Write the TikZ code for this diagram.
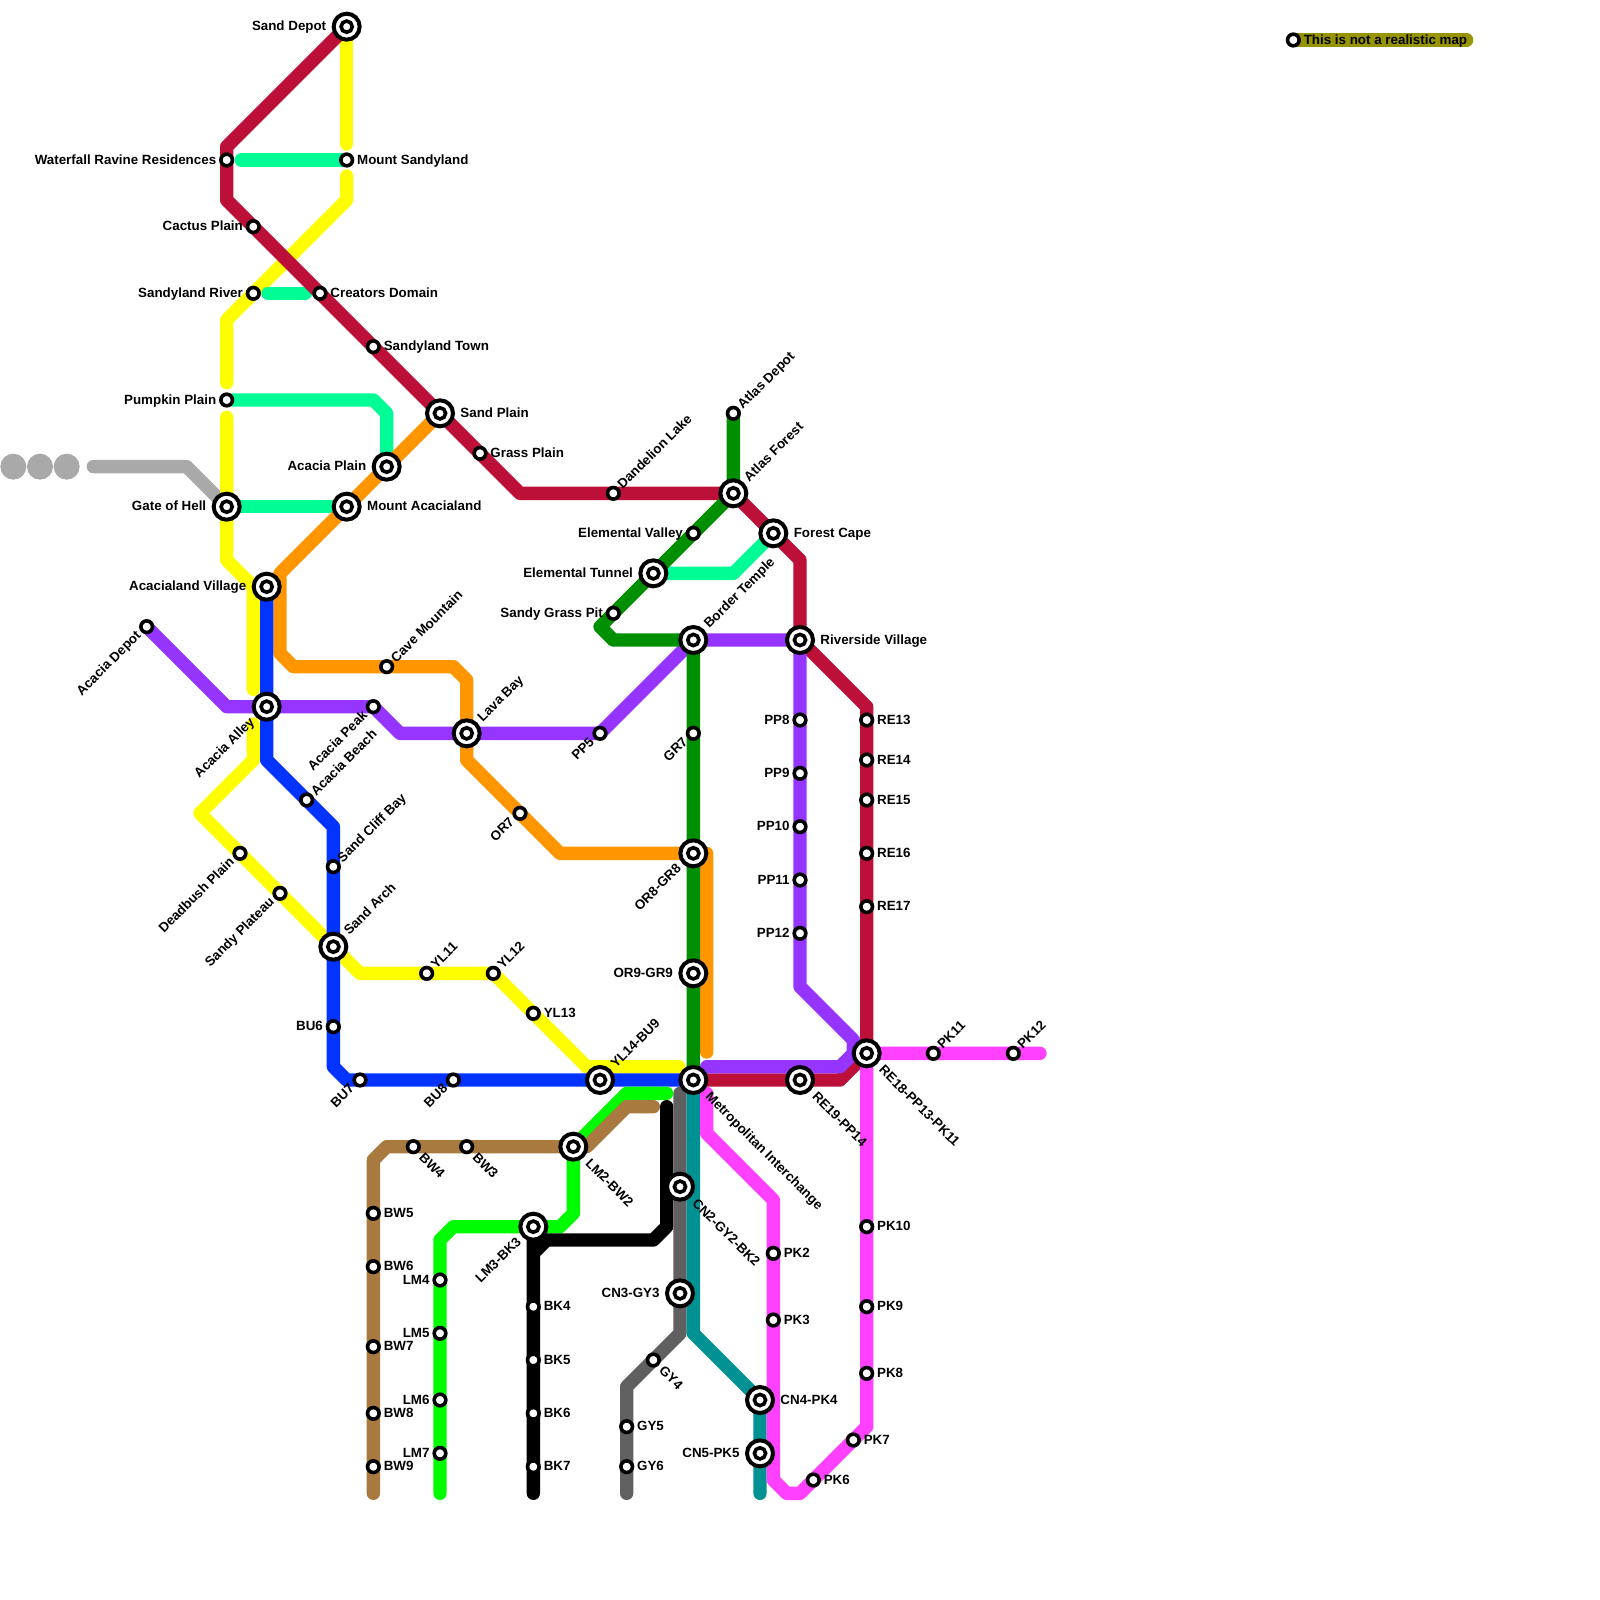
\documentclass[tikz,border=0pt]{standalone}
\usepackage{fontspec}
\setmainfont{Liberation Sans}
\usepackage{xcolor}
\usetikzlibrary{positioning,backgrounds}

\definecolor{crimsonc}{HTML}{BC1038}
\definecolor{yellowc}{HTML}{FFFE00}
\definecolor{springc}{HTML}{00FD95}
\definecolor{orangec}{HTML}{FF9600}
\definecolor{grapec}{HTML}{9635FF}
\definecolor{bluec}{HTML}{0233FF}
\definecolor{cloverc}{HTML}{008F00}
\definecolor{limec}{HTML}{00FC00}
\definecolor{brownc}{HTML}{A97A40}
\definecolor{ironc}{HTML}{606060}
\definecolor{tealc}{HTML}{009193}
\definecolor{pinkc}{HTML}{FF40FF}
\definecolor{alumc}{HTML}{A9A9A9}
\definecolor{oilc}{HTML}{969400}

\def\px{0.015cm}

\tikzset{
  line/.style={line width=0.2cm,line cap=round,line join=round},
  stn/.style={circle,draw=black,fill=white,line width=3.6*\px,minimum size=11.6*\px,inner sep=0pt},
  bigstn/.style={circle,draw=black,fill=white,line width=4*\px,minimum size=26*\px,inner sep=0pt,
    path picture={\draw[black,fill=white,line width=3.6*\px] (path picture bounding box.center) circle (5.6*\px);}},
  dot/.style={circle,fill=alumc,minimum size=26*\px,inner sep=0pt},
  txt/.style={font=\fontsize{5.7}{6}\bfseries\selectfont,inner sep=0pt,text height=1.5ex,text depth=.3ex},
  tr/.style={txt,anchor=west,xshift=10*\px,yshift=3.2*\px},
  tl/.style={txt,anchor=east,xshift=-10*\px,yshift=3.2*\px},
  brr/.style={txt,anchor=west,xshift=20*\px,yshift=3.2*\px},
  bll/.style={txt,anchor=east,xshift=-20*\px,yshift=3.2*\px},
  tne/.style={txt,xshift=4*\px,yshift=8.5*\px,rotate=45,anchor=west},
  bne/.style={txt,xshift=10.5*\px,yshift=16*\px,rotate=45,anchor=west},
  tsw/.style={txt,xshift=-10*\px,yshift=-4*\px,rotate=45,anchor=east},
  bsw/.style={txt,xshift=-16.5*\px,yshift=-10.5*\px,rotate=45,anchor=east},
  tse/.style={txt,xshift=10*\px,yshift=-6*\px,rotate=-45,anchor=west},
  bse/.style={txt,xshift=16.5*\px,yshift=-12*\px,rotate=-45,anchor=west},
}

\begin{document}
\begin{tikzpicture}[x=0.2cm,y=-0.2cm]
  \useasboundingbox (0,0) rectangle (120,120);

  % Ends of lines
  \coordinate (yla) at (26,10.8);
  \coordinate (ylb) at (26,13.2);
  \coordinate (ylc) at (17,28.7);
  \coordinate (yld) at (17,31.3);
  \coordinate (yle) at (19,51.7);
  \coordinate (ylf) at (19,54.3);
  \coordinate (ylend) at (50.9,80);
  \coordinate (spa) at (18.1,12);
  \coordinate (spb) at (20.1,22);
  \coordinate (spc) at (22.9,22);
  \coordinate (grayend) at (7,35);
  \coordinate (orend) at (53,78.9);
  \coordinate (ppend) at (53,80);
  \coordinate (pka) at (53,82);
  \coordinate (pkend) at (78,79);
  \coordinate (lma) at (50,82);
  \coordinate (lmend) at (33,112);
  \coordinate (bwa) at (49,83);
  \coordinate (bwend) at (28,112);
  \coordinate (bka) at (50,83);
  \coordinate (bkend) at (40,112);
  \coordinate (gya) at (51,82);
  \coordinate (gyend) at (47,112);
  \coordinate (cnend) at (57,112);
  \coordinate (oilend) at (110,3);

  % Grey dots
  \node[dot] (dota) at (1,35) {};
  \node[dot] (dotb) at (3,35) {};
  \node[dot] (dotc) at (5,35) {};

  % Stations, upper left
  \node[bigstn] (sanddepot) at (26,2) {}; \node[bll] (sanddepott) at (sanddepot) {Sand Depot};
  \node[stn] (waterfall) at (17,12) {}; \node[tl] (waterfallt) at (waterfall) {Waterfall Ravine Residences};
  \node[stn] (mtsandy) at (26,12) {}; \node[tr] (mtsandyt) at (mtsandy) {Mount Sandyland};
  \node[stn] (cactus) at (19,17) {}; \node[tl] (cactust) at (cactus) {Cactus Plain};
  \node[stn] (sandyriver) at (19,22) {}; \node[tl] (sandyrivert) at (sandyriver) {Sandyland River};
  \node[stn] (creators) at (24,22) {}; \node[tr] (creatorst) at (creators) {Creators Domain};
  \node[stn] (sandytown) at (28,26) {}; \node[tr] (sandytownt) at (sandytown) {Sandyland Town};
  \node[bigstn] (sandplain) at (33,31) {}; \node[brr] (sandplaint) at (sandplain) {Sand Plain};
  \node[stn] (pumpkin) at (17,30) {}; \node[tl] (pumpkint) at (pumpkin) {Pumpkin Plain};
  \node[stn] (grass) at (36,34) {}; \node[tr] (grasst) at (grass) {Grass Plain};
  \node[bigstn] (acplain) at (29,35) {}; \node[bll] (acplaint) at (acplain) {Acacia Plain};
  \node[bigstn] (gate) at (17,38) {}; \node[bll] (gatet) at (gate) {Gate of Hell};
  \node[bigstn] (mtacacia) at (26,38) {}; \node[brr] (mtacaciat) at (mtacacia) {Mount Acacialand};
  \node[bigstn] (acvillage) at (20,44) {}; \node[bll] (acvillaget) at (acvillage) {Acacialand Village};
  \node[stn] (acdepot) at (11,47) {}; \node[tsw] (acdepott) at (acdepot) {Acacia Depot};
  \node[stn] (cave) at (29,50) {}; \node[tne] (cavet) at (cave) {Cave Mountain};
  \node[bigstn] (acalley) at (20,53) {}; \node[bsw] (acalleyt) at (acalley) {Acacia Alley};
  \node[stn] (acpeak) at (28,53) {}; \node[tsw] (acpeakt) at (acpeak) {Acacia Peak};
  \node[bigstn] (lava) at (35,55) {}; \node[bne] (lavat) at (lava) {Lava Bay};
  \node[stn] (acbeach) at (23,60) {}; \node[tne] (acbeacht) at (acbeach) {Acacia Beach};
  \node[stn] (or7) at (39,61) {}; \node[tsw] (or7t) at (or7) {OR7};
  \node[stn] (deadbush) at (18,64) {}; \node[tsw] (deadbusht) at (deadbush) {Deadbush Plain};
  \node[stn] (cliff) at (25,65) {}; \node[tne] (clifft) at (cliff) {Sand Cliff Bay};
  \node[stn] (plateau) at (21,67) {}; \node[tsw] (plateaut) at (plateau) {Sandy Plateau};
  \node[bigstn] (arch) at (25,71) {}; \node[bne] (archt) at (arch) {Sand Arch};
  \node[stn] (yl11) at (32,73) {}; \node[tne] (yl11t) at (yl11) {YL11};
  \node[stn] (yl12) at (37,73) {}; \node[tne] (yl12t) at (yl12) {YL12};
  \node[stn] (yl13) at (40,76) {}; \node[tr] (yl13t) at (yl13) {YL13};
  \node[stn] (bu6) at (25,77) {}; \node[tl] (bu6t) at (bu6) {BU6};
  \node[stn] (bu7) at (27,81) {}; \node[tsw] (bu7t) at (bu7) {BU7};
  \node[stn] (bu8) at (34,81) {}; \node[tsw] (bu8t) at (bu8) {BU8};
  \node[bigstn] (yl14) at (45,81) {}; \node[bne] (yl14t) at (yl14) {YL14-BU9};

  % Stations, middle
  \node[stn] (atlasdepot) at (55,31) {}; \node[tne] (atlasdepott) at (atlasdepot) {Atlas Depot};
  \node[bigstn] (atlasforest) at (55,37) {}; \node[bne] (atlasforestt) at (atlasforest) {Atlas Forest};
  \node[stn] (dandelion) at (46,37) {}; \node[tne] (dandeliont) at (dandelion) {Dandelion Lake};
  \node[stn] (elvalley) at (52,40) {}; \node[tl] (elvalleyt) at (elvalley) {Elemental Valley};
  \node[bigstn] (forestcape) at (58,40) {}; \node[brr] (forestcapet) at (forestcape) {Forest Cape};
  \node[bigstn] (eltunnel) at (49,43) {}; \node[bll] (eltunnelt) at (eltunnel) {Elemental Tunnel};
  \node[stn] (grasspit) at (46,46) {}; \node[tl] (grasspitt) at (grasspit) {Sandy Grass Pit};
  \node[bigstn] (border) at (52,48) {}; \node[bne] (bordert) at (border) {Border Temple};
  \node[bigstn] (riverside) at (60,48) {}; \node[brr] (riversidet) at (riverside) {Riverside Village};
  \node[stn] (pp5) at (45,55) {}; \node[tsw] (pp5t) at (pp5) {PP5};
  \node[stn] (gr7) at (52,55) {}; \node[tsw] (gr7t) at (gr7) {GR7};
  \node[bigstn] (or8) at (52,64) {}; \node[bsw] (or8t) at (or8) {OR8-GR8};
  \node[bigstn] (or9) at (52,73) {}; \node[bll] (or9t) at (or9) {OR9-GR9};
  \node[bigstn] (metro) at (52,81) {}; \node[bse] (metrot) at (metro) {Metropolitan Interchange};

  % Stations, right
  \node[stn] (pp8) at (60,54) {}; \node[tl] (pp8t) at (pp8) {PP8};
  \node[stn] (pp9) at (60,58) {}; \node[tl] (pp9t) at (pp9) {PP9};
  \node[stn] (pp10) at (60,62) {}; \node[tl] (pp10t) at (pp10) {PP10};
  \node[stn] (pp11) at (60,66) {}; \node[tl] (pp11t) at (pp11) {PP11};
  \node[stn] (pp12) at (60,70) {}; \node[tl] (pp12t) at (pp12) {PP12};
  \node[stn] (re13) at (65,54) {}; \node[tr] (re13t) at (re13) {RE13};
  \node[stn] (re14) at (65,57) {}; \node[tr] (re14t) at (re14) {RE14};
  \node[stn] (re15) at (65,60) {}; \node[tr] (re15t) at (re15) {RE15};
  \node[stn] (re16) at (65,64) {}; \node[tr] (re16t) at (re16) {RE16};
  \node[stn] (re17) at (65,68) {}; \node[tr] (re17t) at (re17) {RE17};
  \node[bigstn] (re18) at (65,79) {}; \node[bse] (re18t) at (re18) {RE18-PP13-PK11};
  \node[bigstn] (re19) at (60,81) {}; \node[bse] (re19t) at (re19) {RE19-PP14};
  \node[stn] (pk11) at (70,79) {}; \node[tne] (pk11t) at (pk11) {PK11};
  \node[stn] (pk12) at (76,79) {}; \node[tne] (pk12t) at (pk12) {PK12};
  \node[stn] (pk10) at (65,92) {}; \node[tr] (pk10t) at (pk10) {PK10};
  \node[stn] (pk9) at (65,98) {}; \node[tr] (pk9t) at (pk9) {PK9};
  \node[stn] (pk8) at (65,103) {}; \node[tr] (pk8t) at (pk8) {PK8};
  \node[stn] (pk7) at (64,108) {}; \node[tr] (pk7t) at (pk7) {PK7};
  \node[stn] (pk6) at (61,111) {}; \node[tr] (pk6t) at (pk6) {PK6};
  \node[stn] (pk2) at (58,94) {}; \node[tr] (pk2t) at (pk2) {PK2};
  \node[stn] (pk3) at (58,99) {}; \node[tr] (pk3t) at (pk3) {PK3};
  \node[bigstn] (cn4) at (57,105) {}; \node[brr] (cn4t) at (cn4) {CN4-PK4};
  \node[bigstn] (cn5) at (57,109) {}; \node[bll] (cn5t) at (cn5) {CN5-PK5};

  % Stations, bottom
  \node[stn] (bw4) at (31,86) {}; \node[tse] (bw4t) at (bw4) {BW4};
  \node[stn] (bw3) at (35,86) {}; \node[tse] (bw3t) at (bw3) {BW3};
  \node[bigstn] (lm2) at (43,86) {}; \node[bse] (lm2t) at (lm2) {LM2-BW2};
  \node[bigstn] (cn2) at (51,89) {}; \node[bse] (cn2t) at (cn2) {CN2-GY2-BK2};
  \node[bigstn] (cn3) at (51,97) {}; \node[bll] (cn3t) at (cn3) {CN3-GY3};
  \node[bigstn] (lm3) at (40,92) {}; \node[bsw] (lm3t) at (lm3) {LM3-BK3};
  \node[stn] (bw5) at (28,91) {}; \node[tr] (bw5t) at (bw5) {BW5};
  \node[stn] (bw6) at (28,95) {}; \node[tr] (bw6t) at (bw6) {BW6};
  \node[stn] (bw7) at (28,101) {}; \node[tr] (bw7t) at (bw7) {BW7};
  \node[stn] (bw8) at (28,106) {}; \node[tr] (bw8t) at (bw8) {BW8};
  \node[stn] (bw9) at (28,110) {}; \node[tr] (bw9t) at (bw9) {BW9};
  \node[stn] (lm4) at (33,96) {}; \node[tl] (lm4t) at (lm4) {LM4};
  \node[stn] (lm5) at (33,100) {}; \node[tl] (lm5t) at (lm5) {LM5};
  \node[stn] (lm6) at (33,105) {}; \node[tl] (lm6t) at (lm6) {LM6};
  \node[stn] (lm7) at (33,109) {}; \node[tl] (lm7t) at (lm7) {LM7};
  \node[stn] (bk4) at (40,98) {}; \node[tr] (bk4t) at (bk4) {BK4};
  \node[stn] (bk5) at (40,102) {}; \node[tr] (bk5t) at (bk5) {BK5};
  \node[stn] (bk6) at (40,106) {}; \node[tr] (bk6t) at (bk6) {BK6};
  \node[stn] (bk7) at (40,110) {}; \node[tr] (bk7t) at (bk7) {BK7};
  \node[stn] (gy4) at (49,102) {}; \node[tse] (gy4t) at (gy4) {GY4};
  \node[stn] (gy5) at (47,107) {}; \node[tr] (gy5t) at (gy5) {GY5};
  \node[stn] (gy6) at (47,110) {}; \node[tr] (gy6t) at (gy6) {GY6};

  % Note
  \node[stn] (note) at (97,3) {}; \node[tr] (notet) at (note) {This is not a realistic map};

  \begin{scope}[on background layer]
    % Grey
    \draw[line,alumc] (grayend) -- (14,35) -- (gate.center);
    % Yellow
    \draw[line,yellowc] (sanddepot.center) -- (yla);
    \draw[line,yellowc] (ylb) -- (26,15) -- (sandyriver.center) -- (17,24) -- (ylc);
    \draw[line,yellowc] (yld) -- (gate.center) -- (17,42) -- (19,44) -- (yle);
    \draw[line,yellowc] (ylf) -- (19,57) -- (15,61) -- (deadbush.center) -- (plateau.center) -- (arch.center)
      -- (27,73) -- (yl11.center) -- (yl12.center) -- (yl13.center) -- (44,80) -- (ylend);
    % Spring
    \draw[line,springc] (spa) -- (mtsandy.center);
    \draw[line,springc] (spb) -- (spc);
    \draw[line,springc] (pumpkin.center) -- (28,30) -- (29,31) -- (acplain.center);
    \draw[line,springc] (gate.center) -- (mtacacia.center);
    \draw[line,springc] (eltunnel.center) -- (55,43) -- (forestcape.center);
    % Crimson
    \draw[line,crimsonc] (sanddepot.center) -- (17,11) -- (waterfall.center) -- (17,15) -- (cactus.center)
      -- (creators.center) -- (sandytown.center) -- (sandplain.center) -- (grass.center) -- (39,37)
      -- (dandelion.center) -- (atlasforest.center) -- (forestcape.center) -- (60,42) -- (riverside.center)
      -- (65,53) -- (re13.center) -- (re14.center) -- (re15.center) -- (re16.center) -- (re17.center)
      -- (re18.center) -- (63,81) -- (re19.center) -- (metro.center);
    % Orange
    \draw[line,orangec] (sandplain.center) -- (acplain.center) -- (mtacacia.center) -- (21,43) -- (21,49)
      -- (22,50) -- (cave.center) -- (34,50) -- (35,51) -- (lava.center) -- (35,57) -- (or7.center)
      -- (42,64) -- (or8.center) -- (53,64) -- (orend);
    % Grape
    \draw[line,grapec] (acdepot.center) -- (17,53) -- (acalley.center) -- (acpeak.center) -- (30,55)
      -- (lava.center) -- (pp5.center) -- (border.center) -- (riverside.center) -- (pp8.center)
      -- (pp9.center) -- (pp10.center) -- (pp11.center) -- (pp12.center) -- (60,74) -- (64,78) -- (64,79)
      -- (63,80) -- (ppend);
    % Blue
    \draw[line,bluec] (acvillage.center) -- (acalley.center) -- (20,57) -- (acbeach.center) -- (25,62)
      -- (cliff.center) -- (arch.center) -- (bu6.center) -- (25,80) -- (26,81) -- (bu7.center) -- (bu8.center)
      -- (yl14.center) -- (metro.center);
    % Clover
    \draw[line,cloverc] (atlasdepot.center) -- (atlasforest.center) -- (elvalley.center) -- (eltunnel.center)
      -- (grasspit.center) -- (45,47) -- (46,48) -- (border.center) -- (gr7.center) -- (or8.center)
      -- (or9.center) -- (metro.center);
    % Lime
    \draw[line,limec] (lma) -- (47,82) -- (lm2.center) -- (43,91) -- (42,92) -- (lm3.center) -- (34,92)
      -- (33,93) -- (lm4.center) -- (lm5.center) -- (lm6.center) -- (lm7.center) -- (lmend);
    % Brown
    \draw[line,brownc] (bwa) -- (47,83) -- (44,86) -- (lm2.center) -- (bw3.center) -- (bw4.center) -- (29,86)
      -- (28,87) -- (bw5.center) -- (bw6.center) -- (bw7.center) -- (bw8.center) -- (bw9.center) -- (bwend);
    % Black
    \draw[line,black] (bka) -- (50,92) -- (49,93) -- (41,93) -- (40,94) -- (lm3.center) -- (bk4.center)
      -- (bk5.center) -- (bk6.center) -- (bk7.center) -- (bkend);
    % Iron
    \draw[line,ironc] (gya) -- (cn2.center) -- (cn3.center) -- (51,100) -- (gy4.center) -- (47,104)
      -- (gy5.center) -- (gy6.center) -- (gyend);
    % Teal
    \draw[line,tealc] (metro.center) -- (52,100) -- (cn4.center) -- (cn5.center) -- (cnend);
    % Pink
    \draw[line,pinkc] (pka) -- (53,85) -- (58,90) -- (pk2.center) -- (pk3.center) -- (58,111) -- (59,112)
      -- (60,112) -- (pk6.center) -- (pk7.center) -- (65,107) -- (pk8.center) -- (pk9.center) -- (pk10.center)
      -- (re18.center) -- (pk11.center) -- (pk12.center) -- (pkend);
    % Asparagus
    \draw[line,oilc] (note.center) -- (oilend);
  \end{scope}
\end{tikzpicture}
\end{document}
